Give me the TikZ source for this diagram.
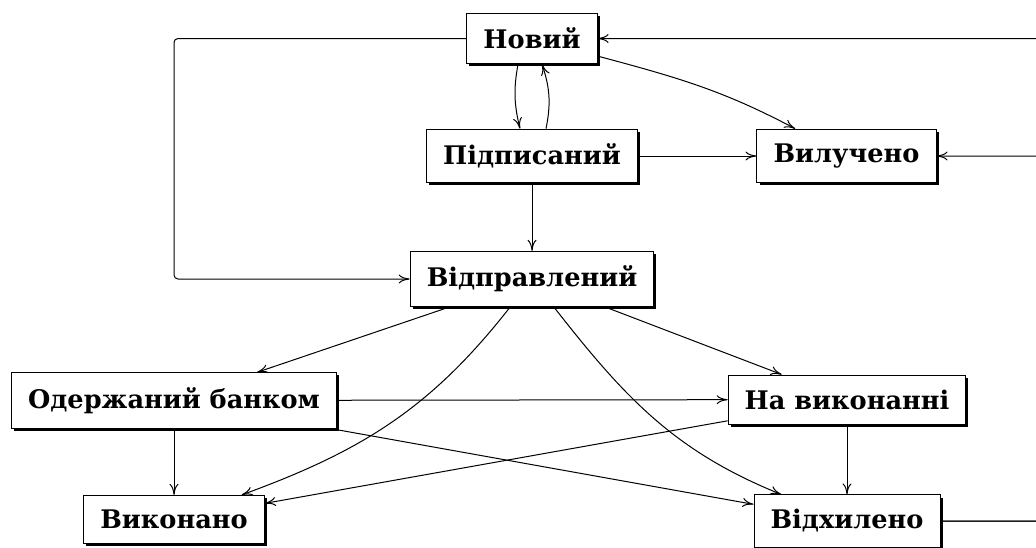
\documentclass[tikz,border=0pt]{standalone}
\usepackage{fontspec}
\setmainfont{DejaVu Serif}
\usetikzlibrary{arrows.meta}
\usetikzlibrary{shadows}

\begin{document}
\begin{tikzpicture}[x=0.5pt,y=-0.5pt]
  % some styles
  \tikzset{
    state/.style={
      rectangle,
      draw=black,
      fill=white,
      line width=0.5pt,
      inner xsep=8.3pt,
      inner ysep=7.3pt,
      font=\bfseries\fontsize{12.8}{15}\selectfont,
      drop shadow={shadow xshift=1.3pt,shadow yshift=-1.3pt,fill=black,opacity=1}
    }
  }
  \tikzset{link/.style={-{To[length=5.5pt,width=4.5pt]},line width=0.5pt}}

  \useasboundingbox (0,0) rectangle (1036,547);

  % states
  \node[state] (novyi) at (532,38.5) {Новий};
  \node[state] (pidpysanyi) at (532,156) {Підписаний};
  \node[state] (vylucheno) at (846.5,156) {Вилучено};
  \node[state] (vidpravlenyi) at (532,279) {Відправлений};
  \node[state] (oderzhanyi) at (174,400.5) {Одержаний банком};
  \node[state] (navykonanni) at (847,399.5) {На виконанні};
  \node[state] (vykonano) at (174,519.5) {Виконано};
  \node[state] (vidkhyleno) at (847,521) {Відхилено};
  \coordinate (rightrail) at (1060,300);

  % transitions
  \draw[link,rounded corners=2pt] (novyi.west) -| (vidpravlenyi.west -| oderzhanyi.north) -- (vidpravlenyi.west);
  \draw[link] ([xshift=-7pt]novyi.south) to[bend right=12] ([xshift=-6pt]pidpysanyi.north);
  \draw[link] ([xshift=7pt]pidpysanyi.north) to[bend right=15] ([xshift=5pt]novyi.south);
  \draw[link] (novyi) to[out=-15,in=152] (vylucheno);
  \draw[link] (pidpysanyi) -- (vylucheno);
  \draw[link] (pidpysanyi) -- (vidpravlenyi);
  \draw[link] (vidpravlenyi) -- (oderzhanyi);
  \draw[link] (vidpravlenyi) -- (navykonanni);
  \draw[link] (vidpravlenyi) to[out=232,in=20] (vykonano);
  \draw[link] (vidpravlenyi) to[out=308,in=158] (vidkhyleno);
  \draw[link] (oderzhanyi) -- (navykonanni);
  \draw[link] (oderzhanyi) -- (vidkhyleno);
  \draw[link] (oderzhanyi) -- (vykonano);
  \draw[link] (navykonanni) -- (vykonano);
  \draw[link] (navykonanni) -- (vidkhyleno);
  \draw[link,rounded corners=2pt] (vidkhyleno) -| (rightrail) |- (novyi);
  \draw[link,rounded corners=2pt] (vidkhyleno) -| (rightrail) |- (vylucheno);
\end{tikzpicture}
\end{document}
